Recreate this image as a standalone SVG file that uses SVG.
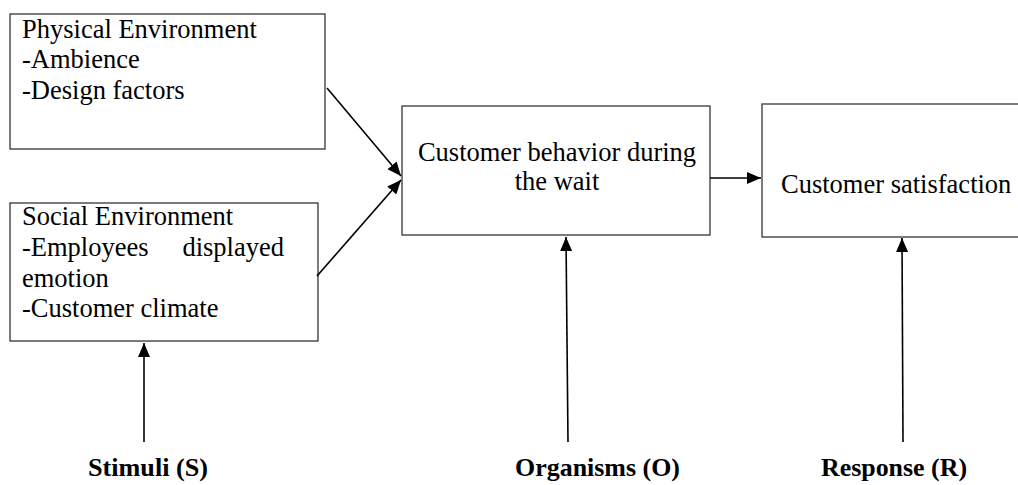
<svg xmlns="http://www.w3.org/2000/svg" width="1018" height="485" viewBox="0 0 1018 485">
<style>
.box{fill:#fff;stroke:#444;stroke-width:1.4}
.t{font-family:"Liberation Serif","Times New Roman",serif;font-size:26.5px;fill:#000}
.b{font-family:"Liberation Serif","Times New Roman",serif;font-size:25px;font-weight:bold;fill:#000}
.c{stroke:#000;stroke-width:1.6;fill:none;marker-end:url(#ah)}
</style>
<defs>
<marker id="ah" markerUnits="userSpaceOnUse" markerWidth="14" markerHeight="12" refX="14" refY="6" orient="auto">
<path d="M0,0 L14,6 L0,12 Z" fill="#000"/>
</marker>
</defs>
<rect width="1018" height="485" fill="#fff"/>
<g id="physical">
<rect class="box" x="10" y="14" width="315" height="135"/>
<text class="t" x="22" y="38">Physical Environment</text>
<text class="t" x="22" y="68">-Ambience</text>
<text class="t" x="22" y="99">-Design factors</text>
</g>
<g id="social">
<rect class="box" x="10" y="203" width="308" height="138"/>
<text class="t" x="22" y="225">Social Environment</text>
<text class="t" x="22" y="256">-Employees</text>
<text class="t" x="284" y="256" text-anchor="end">displayed</text>
<text class="t" x="22" y="287">emotion</text>
<text class="t" x="22" y="317">-Customer climate</text>
</g>
<g id="behavior">
<rect class="box" x="402" y="106" width="308" height="129"/>
<text class="t" x="557" y="161" text-anchor="middle">Customer behavior during</text>
<text class="t" x="557" y="190" text-anchor="middle">the wait</text>
</g>
<g id="satisfaction">
<rect class="box" x="762" y="104" width="270" height="133"/>
<text class="t" x="781" y="193">Customer satisfaction</text>
</g>
<g id="labels">
<text class="b" x="88" y="476" textLength="120" lengthAdjust="spacingAndGlyphs">Stimuli (S)</text>
<text class="b" x="515" y="476" textLength="165" lengthAdjust="spacingAndGlyphs">Organisms (O)</text>
<text class="b" x="821" y="476" textLength="146" lengthAdjust="spacingAndGlyphs">Response (R)</text>
</g>
<g id="connectors">
<line class="c" x1="327" y1="88" x2="401" y2="176"/>
<line class="c" x1="317" y1="276" x2="401" y2="180"/>
<line class="c" x1="710" y1="178" x2="761" y2="178"/>
<line class="c" x1="144" y1="442" x2="144" y2="343"/>
<line class="c" x1="568" y1="442" x2="566" y2="237"/>
<line class="c" x1="903" y1="442" x2="902" y2="238"/>
</g>
</svg>
